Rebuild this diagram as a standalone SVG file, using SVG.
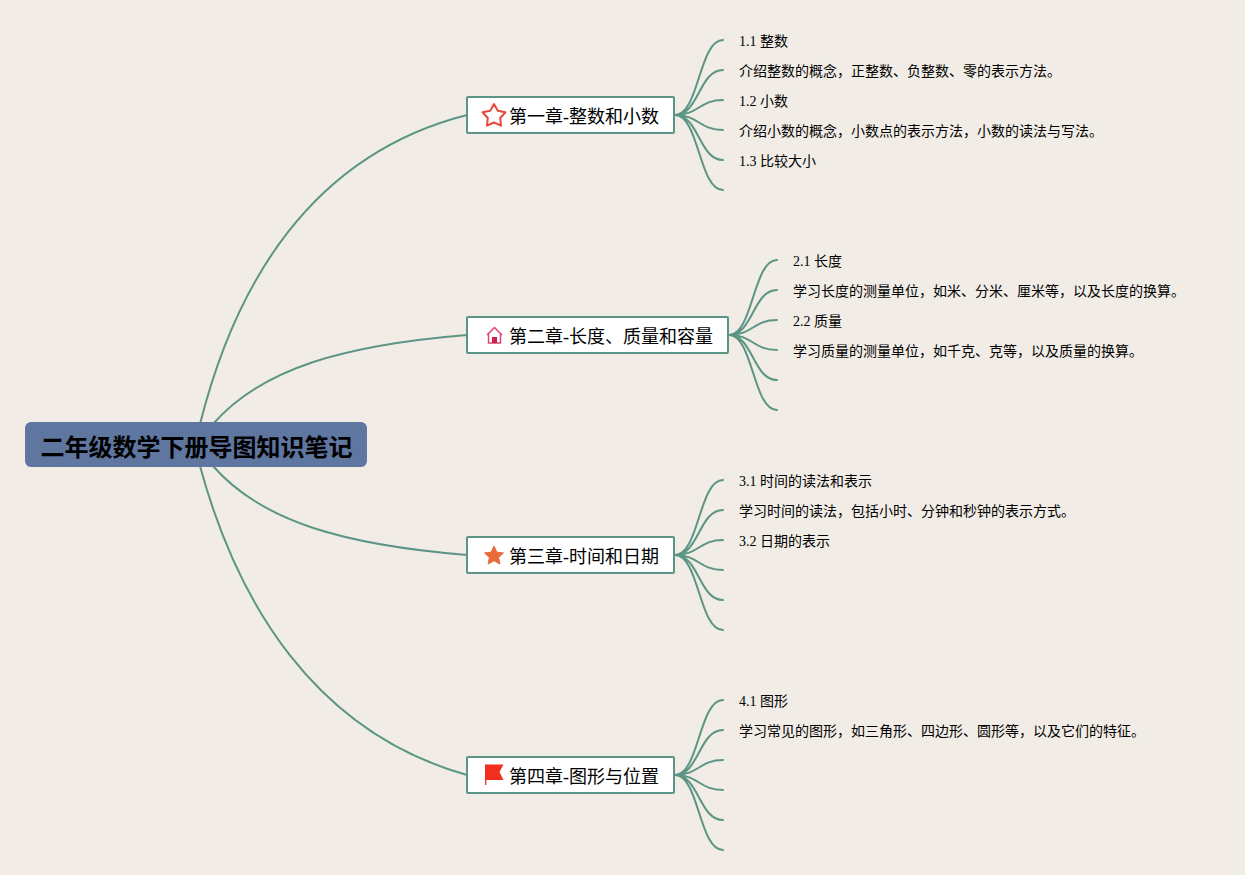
<svg xmlns="http://www.w3.org/2000/svg" width="1245" height="875" viewBox="0 0 1245 875">
<style>
.c{fill:none;stroke:#5c9585;stroke-width:2;stroke-linecap:round}
.b{fill:#fff;stroke:#5c9585;stroke-width:2}
.t{font-family:"Liberation Serif","Noto Sans CJK SC",serif;fill:#000}
.h{font-size:18px}
.l{font-size:14px}
</style>
<rect width="1245" height="875" fill="#f1ece6"/>
<g id="connectors">
<path class="c" d="M200 424C235 285 310 155 467 115"/>
<path class="c" d="M213 424C262 368 345 345 467 335"/>
<path class="c" d="M213 466C262 522 345 545 467 555"/>
<path class="c" d="M200 466C237 602 314 732 467 775"/>
<path class="c" d="M675 115C699 115 699 40 723 40M675 115C699 115 699 70 723 70M675 115C699 115 699 100 723 100M675 115C699 115 699 130 723 130M675 115C699 115 699 160 723 160M675 115C699 115 699 190 723 190"/>
<path class="c" d="M729 335C753 335 753 260 777 260M729 335C753 335 753 290 777 290M729 335C753 335 753 320 777 320M729 335C753 335 753 350 777 350M729 335C753 335 753 380 777 380M729 335C753 335 753 410 777 410"/>
<path class="c" d="M675 555C699 555 699 480 723 480M675 555C699 555 699 510 723 510M675 555C699 555 699 540 723 540M675 555C699 555 699 570 723 570M675 555C699 555 699 600 723 600M675 555C699 555 699 630 723 630"/>
<path class="c" d="M675 775C699 775 699 700 723 700M675 775C699 775 699 730 723 730M675 775C699 775 699 760 723 760M675 775C699 775 699 790 723 790M675 775C699 775 699 820 723 820M675 775C699 775 699 850 723 850"/>
</g>
<g id="root"><rect x="25" y="422" width="342" height="45" rx="6" fill="#5e76a0"/><text class="t" x="40.500" y="456" font-size="24" font-weight="700">二年级数学下册导图知识笔记</text></g>
<g id="ch1"><rect class="b" x="467" y="97" width="207" height="36" rx="1"/>
<path d="M494 104L497.800 110.700L505.400 112.300L500.200 118L501 125.700L494 122.500L487 125.700L487.800 118L482.600 112.300L490.200 110.700Z" fill="#fff" stroke="#e5483a" stroke-width="2" stroke-linejoin="round"/>
<text class="t h" x="509" y="122.500">第一章-整数和小数</text></g>
<g id="ch2"><rect class="b" x="467" y="317" width="261" height="36" rx="1"/>
<path d="M487 335L494.500 327.500L502 335M488.500 334V343H500.500V334" fill="none" stroke="#e0476f" stroke-width="1.500" stroke-linejoin="round"/><rect x="492" y="337" width="5" height="6" fill="#c8214f"/>
<text class="t h" x="509" y="342.500">第二章-长度、质量和容量</text></g>
<g id="ch3"><rect class="b" x="467" y="537" width="207" height="36" rx="1"/>
<path d="M494 546L496.800 552.200L503.500 553L498.600 557.500L499.900 564L494 560.700L488.100 564L489.400 557.500L484.500 553L491.200 552.200Z" fill="#e86a3a" stroke="#e86a3a" stroke-linejoin="round"/>
<text class="t h" x="509" y="562.500">第三章-时间和日期</text></g>
<g id="ch4"><rect class="b" x="467" y="757" width="207" height="36" rx="1"/>
<path d="M485 764.500H503.500L499.500 772L503.500 780H486.300V785H485Z" fill="#f0301c"/>
<text class="t h" x="509" y="782.500">第四章-图形与位置</text></g>
<g id="ch1-items" class="t l">
<text x="739" y="46">1.1 整数</text>
<text x="739" y="76">介绍整数的概念，正整数、负整数、零的表示方法。</text>
<text x="739" y="106">1.2 小数</text>
<text x="739" y="136">介绍小数的概念，小数点的表示方法，小数的读法与写法。</text>
<text x="739" y="166">1.3 比较大小</text>
</g>
<g id="ch2-items" class="t l">
<text x="793" y="266">2.1 长度</text>
<text x="793" y="296">学习长度的测量单位，如米、分米、厘米等，以及长度的换算。</text>
<text x="793" y="326">2.2 质量</text>
<text x="793" y="356">学习质量的测量单位，如千克、克等，以及质量的换算。</text>
</g>
<g id="ch3-items" class="t l">
<text x="739" y="486">3.1 时间的读法和表示</text>
<text x="739" y="516">学习时间的读法，包括小时、分钟和秒钟的表示方式。</text>
<text x="739" y="546">3.2 日期的表示</text>
</g>
<g id="ch4-items" class="t l">
<text x="739" y="706">4.1 图形</text>
<text x="739" y="736">学习常见的图形，如三角形、四边形、圆形等，以及它们的特征。</text>
</g>
</svg>
